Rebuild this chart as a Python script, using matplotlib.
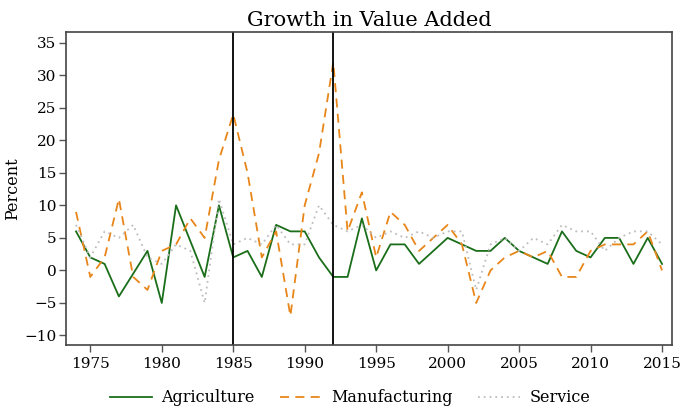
import matplotlib.pyplot as plt
import numpy as np

plt.rcParams['font.family'] = ['DejaVu Serif']

years = np.arange(1974, 2016)

agriculture = [6, 2, 1, -4, -0.5, 3, -5, 10, 4.5, -1, 10, 2,
               3, -1, 7, 6, 6, 2, -1, -1, 8, 0, 4, 4,
               1, 3, 5, 4, 3, 3, 5, 3, 2, 1, 6, 3,
               2, 5, 5, 1, 5, 1]
manufacturing = [9, -1, 2, 11, -1, -3, 3, 4, 8, 5, 17, 24,
                 15, 2, 6, -7, 10, 18, 32, 6, 12, 2, 9, 7,
                 3, 5, 7, 4, -5, 0, 2, 3, 2, 3, -1, -1,
                 3, 4, 4, 4, 6, 0]
service = [7, 2, 6, 5, 7, 2, 1, 4, 3, -5, 11, 4,
           5, 4, 7, 4, 4, 10, 7, 6, 7, 5, 6, 5,
           6, 5, 6, 6, -3, 4, 5, 3, 5, 4, 7, 6,
           6, 3, 5, 6, 6, 4]

events = [1985, 1992]
xticks = np.arange(1975, 2016, 5)
yticks = np.arange(-10, 36, 5)

fig = plt.figure(figsize=(6.84, 4.11), dpi=100)
ax = fig.add_axes([0.0965, 0.160, 0.886, 0.763])

ax.plot(years, agriculture, color='#1a6e1a', lw=1.3, label='Agriculture')
ax.plot(years, manufacturing, color='#e8861a', lw=1.3, ls=(0, (5, 3.5)),
        label='Manufacturing')
ax.plot(years, service, color='#bdbdbd', lw=1.3, ls=(0, (1, 2.2)),
        label='Service')

for yr in events:
    ax.axvline(yr, color='black', lw=1.3)

ax.set_xlim(1973.3, 2015.7)
ax.set_ylim(-11.5, 36.7)
ax.set_xticks(xticks)
ax.set_yticks(yticks)
ax.tick_params(direction='out', length=5, width=1, color='#555555',
               labelsize=11)
ax.tick_params(axis='y', pad=2)
for s in ax.spines.values():
    s.set_color('#444444')
    s.set_linewidth(1.2)

ax.set_ylabel('Percent', fontsize=11.5)
ax.yaxis.set_label_coords(-0.074, 0.5)
ax.set_title('Growth in Value Added', fontsize=15, pad=4)

ax.legend(loc='upper center', bbox_to_anchor=(0.469, -0.095), ncol=3,
          frameon=False, fontsize=11.5, handlelength=2.6, columnspacing=1.6,
          handletextpad=0.6)

fig.savefig('out.png', dpi=100)
